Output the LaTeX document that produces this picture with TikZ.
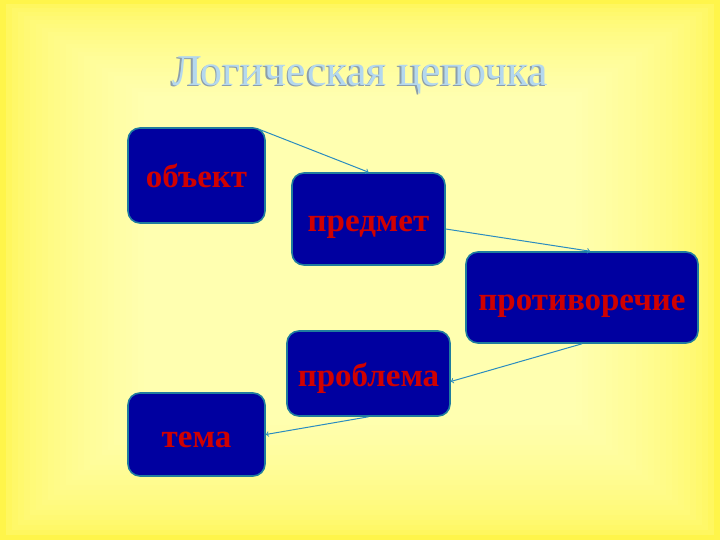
\documentclass[tikz,border=0pt]{standalone}
\usepackage{fontspec}
\setmainfont{Liberation Serif}
\definecolor{boxblue}{HTML}{0000A0}
\definecolor{boxedge}{HTML}{1F7C9E}
\definecolor{linkblue}{HTML}{2A8CC0}
\definecolor{wordred}{HTML}{D00000}
\definecolor{titleblue}{HTML}{B4D8EE}
\definecolor{titleshade}{HTML}{8C9EAA}
\definecolor{bgouter}{HTML}{FFF54A}
\definecolor{bginner}{HTML}{FFFFB0}
\tikzset{
  chainbox/.style={draw=boxedge,line width=1.6pt,fill=boxblue,rounded corners=12pt,
    text=wordred,font=\fontsize{33}{33}\selectfont\bfseries,inner sep=0pt,
    text height=25pt,text depth=0pt},
  link/.style={->,draw=linkblue,line width=1pt}
}
\begin{document}
\begin{tikzpicture}[x=1pt,y=-1pt]
\useasboundingbox (0,0) rectangle (720,540);

% background
\foreach \i in {0,...,24}{
  \pgfmathsetmacro{\mix}{100*sqrt(\i/24)}
  \fill[bginner!\mix!bgouter] (6*\i,4*\i) rectangle (720-6*\i,540-5*\i);
}

\node[text=titleshade] (titleshadow) at (358.5,76.5) {\fontsize{44}{44}\selectfont Логическая цепочка};
\node[text=titleblue] (title) at (360,75) {\fontsize{44}{44}\selectfont Логическая цепочка};

\node[chainbox,minimum width=137pt,minimum height=95pt] (obj) at (196.5,175.5) {объект};
\node[chainbox,minimum width=153pt,minimum height=92pt] (subj) at (368.5,219) {предмет};
\node[chainbox,minimum width=232pt,minimum height=91pt] (contr) at (582,297.5) {противоречие};
\node[chainbox,minimum width=163pt,minimum height=85pt] (probl) at (368.5,373.5) {проблема};
\node[chainbox,minimum width=137pt,minimum height=83pt] (theme) at (196.5,434.5) {тема};

\draw[link] ([xshift=-7pt,yshift=-2pt]obj.north east) -- (subj.north);
\draw[link] ([yshift=-10pt]subj.east) -- ([xshift=8pt]contr.north);
\draw[link] (contr.south) -- ([yshift=-8pt]probl.east);
\draw[link] (probl.south) -- (theme.east);

\end{tikzpicture}
\end{document}
